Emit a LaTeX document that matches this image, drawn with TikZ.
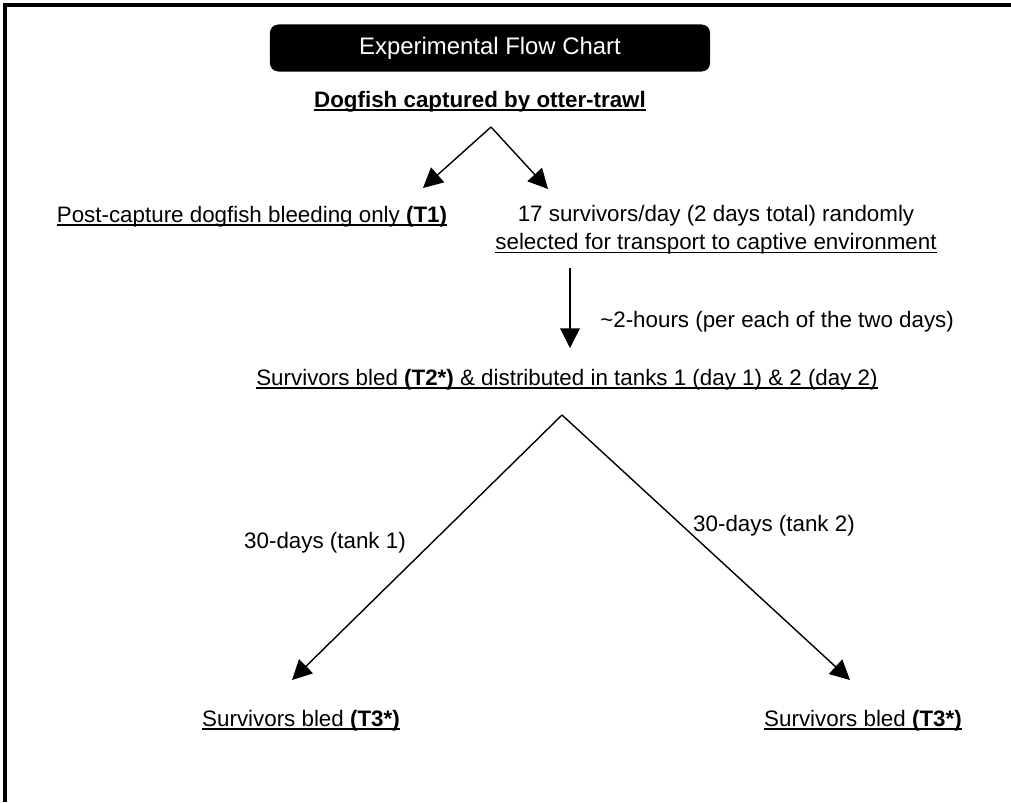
\documentclass[tikz,border=0pt]{standalone}
\usepackage{fontspec}
\setmainfont{Liberation Sans}
\usetikzlibrary{arrows.meta}

\newsavebox{\ulbox}
\newcommand{\ulx}[1]{\sbox{\ulbox}{#1}\rlap{\usebox{\ulbox}}\rule[-2.6pt]{\wd\ulbox}{1.1pt}}

\tikzset{
  txt/.style={font=\fontsize{15.9}{20}\selectfont, inner sep=0pt, anchor=base},
  flow/.style={line width=1pt, -{Triangle[length=14pt,width=14pt]}},
  titlebox/.style={fill=black, text=white, rounded corners=6pt, minimum width=11cm,
    minimum height=1.175cm, inner sep=0pt, font=\fontsize{17}{20}\selectfont},
}

\begin{document}
\begin{tikzpicture}[x=0.025cm, y=-0.025cm]
    \useasboundingbox (0, 0) rectangle (1011, 802);
    \draw[line width=2.6pt] (1011, 5) -- (5, 5) -- (5, 802);
    % title and first step
    \node[titlebox] (title) at (490, 48) {Experimental Flow Chart};
    \node[txt] (capture) at (480, 107) {\ulx{\textbf{Dogfish captured by otter-trawl}}};
    \coordinate (fork1) at (491, 127);
    \coordinate (tip1) at (423, 188);
    \coordinate (tip2) at (548, 189);
    \draw[flow] (fork1) -- (tip1);
    \draw[flow] (fork1) -- (tip2);
    \node[txt] (t1) at (252, 222) {\ulx{Post-capture dogfish bleeding only \textbf{(T1)}}};
    \node[txt, align=center, anchor=north] (select) at (716, 205)
        {17 survivors/day (2 days total) randomly\\ \ulx{selected for transport to captive environment}};
    % transport
    \coordinate (down1) at (570, 268);
    \coordinate (down2) at (570, 348);
    \draw[flow] (down1) -- (down2);
    \node[txt, anchor=base west] (hours) at (600, 327) {\textasciitilde2-hours (per each of the two days)};
    \node[txt] (t2) at (567, 385) {\ulx{Survivors bled \textbf{(T2*)} \& distributed in tanks 1 (day 1) \& 2 (day 2)}};
    % tanks
    \coordinate (fork2) at (562, 415);
    \coordinate (tip3) at (292, 680);
    \coordinate (tip4) at (850, 680);
    \draw[flow] (fork2) -- (tip3);
    \draw[flow] (fork2) -- (tip4);
    \node[txt] (tank1) at (325, 548) {30-days (tank 1)};
    \node[txt] (tank2) at (774, 531) {30-days (tank 2)};
    \node[txt] (t3a) at (301, 726) {\ulx{Survivors bled \textbf{(T3*)}}};
    \node[txt] (t3b) at (863, 726) {\ulx{Survivors bled \textbf{(T3*)}}};
\end{tikzpicture}
\end{document}
